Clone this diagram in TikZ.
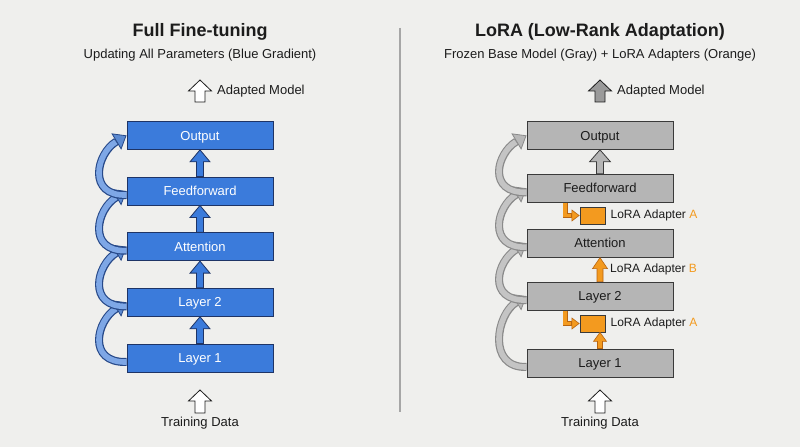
\documentclass[tikz,border=0pt]{standalone}
\usepackage{fontspec}
\setmainfont{Liberation Sans}
\usetikzlibrary{positioning,calc,arrows.meta}

\definecolor{bgcol}{HTML}{EFEFED}
\definecolor{lblue}{HTML}{3B7BDB}
\definecolor{dblue}{HTML}{1E3466}
\definecolor{pblue}{HTML}{7EA7E6}
\definecolor{lgray}{HTML}{B5B5B5}
\definecolor{dgray}{HTML}{3A3A3A}
\definecolor{mgray}{HTML}{8A8A8A}
\definecolor{pgray}{HTML}{C4C4C4}
\definecolor{lorange}{HTML}{F39A1F}
\definecolor{dorange}{HTML}{B86410}
\definecolor{txt}{HTML}{1C1C1C}

\tikzset{
  headline/.style={font=\fontsize{18}{20}\selectfont\bfseries, text=txt},
  subline/.style={font=\fontsize{13}{15}\selectfont, text=txt},
  sidetext/.style={font=\fontsize{13}{15}\selectfont, text=txt, inner sep=0pt},
  adaptext/.style={font=\fontsize{12}{14}\selectfont, text=txt, inner sep=0pt},
  layer/.style={minimum width=146pt, minimum height=28pt, inner sep=0pt,
    text height=9.3pt, text depth=0pt,
    font=\fontsize{13}{15}\selectfont, line width=0.9pt},
  bluelayer/.style={layer, fill=lblue, draw=dblue, text=white},
  graylayer/.style={layer, fill=lgray, draw=dgray, text=txt},
  adapter/.style={minimum width=25pt, minimum height=17pt, inner sep=0pt,
    fill=lorange, draw=dgray, line width=0.8pt},
  bluearr/.style={fill=lblue, draw=dblue, line width=0.8pt},
  grayarr/.style={fill=lgray, draw=dgray, line width=0.8pt},
  orangearr/.style={fill=lorange, draw=dorange, line width=0.6pt},
  openarr/.style={fill=white, draw=txt, line width=0.8pt},
  inarr/.style={fill=lgray!85!black, draw=txt, line width=0.8pt},
}

% block arrow: style, from, to, shaft half width, head half width, head length
\newcommand{\blockarrow}[6]{%
  \draw[#1] let \p1=(#2), \p2=(#3) in
    (\x1-#4,\y1) -- (\x1-#4,\y2-#6) -- (\x1-#5,\y2-#6) -- (\x1,\y2)
    -- (\x1+#5,\y2-#6) -- (\x1+#4,\y2-#6) -- (\x1+#4,\y1) -- cycle;}

% curved skip arrow: outer colour, inner colour, from, to
\newcommand{\skiparrow}[4]{%
  \draw[line width=8pt, #1, -{Triangle[length=12pt,width=19pt,line width=0.8pt,fill=#2!80!#1]}]
    ([yshift=-4pt]#3) .. controls +(-40,-1) and +(-30,-18) .. (#4);
  \draw[line width=5.6pt, #2, shorten >=12.5pt]
    ([yshift=-4pt]#3) .. controls +(-40,-1) and +(-30,-18) .. (#4);}

\begin{document}
\begin{tikzpicture}[x=1pt, y=1pt]
\useasboundingbox (0,0) rectangle (800,447);
\fill[bgcol] (0,0) rectangle (800,447);

% divider
\draw[gray!70, line width=1.3pt] (400,419) -- (400,35);

%% left: full fine-tuning
\node[headline] (lhead) at (200,415) {Full Fine-tuning};
\node[subline] (lsub) at (200,392) {Updating All Parameters (Blue Gradient)};

\node[bluelayer] (ll1) at (200,89) {Layer 1};
\node[bluelayer, above=26.75pt of ll1] (ll2) {Layer 2};
\node[bluelayer, above=26.75pt of ll2] (latt) {Attention};
\node[bluelayer, above=26.75pt of latt] (lff) {Feedforward};
\node[bluelayer, above=26.75pt of lff] (lout) {Output};

\blockarrow{bluearr}{ll1.north}{ll2.south}{3.5pt}{10pt}{12pt}
\blockarrow{bluearr}{ll2.north}{latt.south}{3.5pt}{10pt}{12pt}
\blockarrow{bluearr}{latt.north}{lff.south}{3.5pt}{10pt}{12pt}
\blockarrow{bluearr}{lff.north}{lout.south}{3.5pt}{10pt}{12pt}

\skiparrow{dblue!70!lblue}{pblue}{ll1.west}{ll2.west}
\skiparrow{dblue!70!lblue}{pblue}{ll2.west}{latt.west}
\skiparrow{dblue!70!lblue}{pblue}{latt.west}{lff.west}
\skiparrow{dblue!70!lblue}{pblue}{lff.west}{lout.west}

\coordinate (lina) at (200,34);
\coordinate (linb) at (200,57);
\blockarrow{openarr}{lina}{linb}{5pt}{11.5pt}{11pt}
\node[sidetext, anchor=north] (ldata) at (200,30) {Training Data};

\coordinate (louta) at (200,345);
\coordinate (loutb) at (200,367);
\blockarrow{openarr}{louta}{loutb}{5pt}{11.5pt}{11pt}
\node[sidetext, anchor=west] (lmodel) at (217,356) {Adapted Model};

%% right: LoRA
\node[headline] (rhead) at (600,415) {LoRA (Low-Rank Adaptation)};
\node[subline] (rsub) at (600,392) {Frozen Base Model (Gray) + LoRA Adapters (Orange)};

\node[graylayer] (rl1) at (600,84) {Layer 1};
\node[graylayer, above=38pt of rl1] (rl2) {Layer 2};
\node[graylayer, above=24pt of rl2] (ratt) {Attention};
\node[graylayer, above=26pt of ratt] (rff) {Feedforward};
\node[graylayer, above=24pt of rff] (rout) {Output};

\blockarrow{grayarr}{rff.north}{rout.south}{3.5pt}{10.5pt}{12pt}

\skiparrow{mgray}{pgray}{rl1.west}{rl2.west}
\skiparrow{mgray}{pgray}{rl2.west}{ratt.west}
\skiparrow{mgray}{pgray}{ratt.west}{rff.west}
\skiparrow{mgray}{pgray}{rff.west}{rout.west}

% adapters
\node[adapter] (ra1) at (592.5,231.5) {};
\node[adapter] (ra2) at (592.5,123.5) {};
\node[adaptext, right=5pt of ra1] (ta1) {LoRA Adapter \textcolor{lorange}{A}};
\node[adaptext, right=5pt of ra2] (ta2) {LoRA Adapter \textcolor{lorange}{A}};
\node[adaptext, anchor=west] (tb) at (610,177.5) {LoRA Adapter \textcolor{lorange}{B}};

\draw[line width=5pt, dorange, -{Triangle[length=8pt,width=12pt,line width=0.6pt,fill=lorange]}]
  ([xshift=-35pt]rff.south) |- (ra1.west);
\draw[line width=3.6pt, lorange, shorten >=8.5pt]
  ([xshift=-35pt]rff.south) |- (ra1.west);
\draw[line width=5pt, dorange, -{Triangle[length=8pt,width=12pt,line width=0.6pt,fill=lorange]}]
  ([xshift=-35pt]rl2.south) |- (ra2.west);
\draw[line width=3.6pt, lorange, shorten >=8.5pt]
  ([xshift=-35pt]rl2.south) |- (ra2.west);

\blockarrow{orangearr}{rl2.north}{ratt.south}{3pt}{7.5pt}{11pt}
\blockarrow{orangearr}{rl1.north}{rl1.north |- ra2.south}{2.5pt}{6.5pt}{9pt}

\coordinate (rina) at (600,34);
\coordinate (rinb) at (600,57);
\blockarrow{openarr}{rina}{rinb}{5pt}{11.5pt}{11pt}
\node[sidetext, anchor=north] (rdata) at (600,30) {Training Data};

\coordinate (routa) at (600,345);
\coordinate (routb) at (600,367);
\blockarrow{inarr}{routa}{routb}{5pt}{11.5pt}{11pt}
\node[sidetext, anchor=west] (rmodel) at (617,356) {Adapted Model};
\end{tikzpicture}
\end{document}
